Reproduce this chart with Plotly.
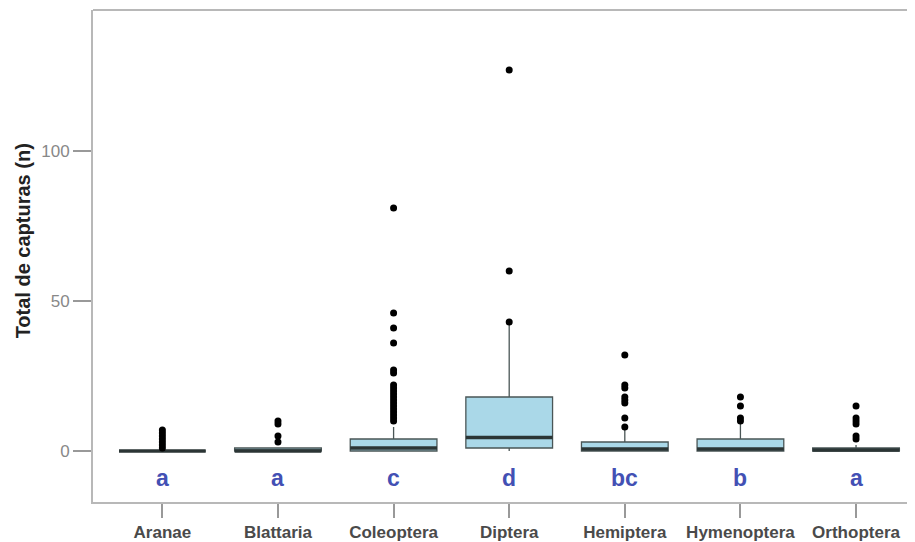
import plotly.graph_objects as go

categories = ["Aranae", "Blattaria", "Coleoptera", "Diptera", "Hemiptera", "Hymenoptera", "Orthoptera"]
q1 = [0, 0, 0, 1, 0, 0, 0]
median = [0, 0, 1, 4.5, 0.7, 0.7, 0.3]
q3 = [0, 1, 4, 18, 3, 4, 1]
lower_whisker = [0, 0, 0, 0, 0, 0, 0]
upper_whisker = [0, 1, 8, 43, 7, 9, 2]
letters = ["a", "a", "c", "d", "bc", "b", "a"]
outliers = {
    "Aranae": [1, 2, 3, 4, 5, 6, 7],
    "Blattaria": [3, 5, 9, 10],
    "Coleoptera": [81, 46, 41, 36, 27, 26, 22, 21, 20, 19, 18, 17, 16, 15, 14, 13, 12, 11, 10],
    "Diptera": [127, 60, 43],
    "Hemiptera": [32, 22, 21, 18, 17, 16, 11, 8],
    "Hymenoptera": [18, 15, 11, 10],
    "Orthoptera": [15, 11, 10, 9, 5, 4],
}
y_ticks = [0, 50, 100]
y_title = "Total de capturas (n)"

xpos = list(range(len(categories)))
BOX_W = 0.75

fig = go.Figure()
fig.add_trace(go.Box(
    x=xpos, q1=q1, median=median, q3=q3,
    lowerfence=lower_whisker, upperfence=upper_whisker,
    width=BOX_W, whiskerwidth=0,
    fillcolor="#aad8e8", line=dict(color="#4a5656", width=1.3),
    boxpoints=False, showlegend=False, hoverinfo="skip",
))

# thick median lines
mx, my = [], []
for i, m in enumerate(median):
    mx += [i - BOX_W / 2, i + BOX_W / 2, None]
    my += [m, m, None]
fig.add_trace(go.Scatter(x=mx, y=my, mode="lines",
                         line=dict(color="#2b3535", width=3.5),
                         showlegend=False, hoverinfo="skip"))

# outliers
ox, oy = [], []
for i, c in enumerate(categories):
    for v in outliers[c]:
        ox.append(i)
        oy.append(v)
fig.add_trace(go.Scatter(x=ox, y=oy, mode="markers",
                         marker=dict(color="black", size=7),
                         showlegend=False, hoverinfo="skip"))

# significance letters
for i, l in enumerate(letters):
    fig.add_annotation(x=i, y=-9, text=f"<b>{l}</b>", showarrow=False,
                       font=dict(family="Arial, Liberation Sans", size=23, color="#4350b4"))

# y-axis title
fig.add_annotation(xref="paper", yref="paper", x=-0.085, y=0.53, text=f"<b>{y_title}</b>",
                   textangle=-90, showarrow=False, xanchor="center", yanchor="middle",
                   font=dict(family="Arial, Liberation Sans", size=20, color="#222"))

fig.add_shape(type="line", xref="paper", yref="paper", x0=0, x1=1, y0=1, y1=1,
              line=dict(color="#b8b8b8", width=2))

fig.update_layout(
    width=907, height=534,
    margin=dict(l=85, r=0, t=2, b=40),
    plot_bgcolor="white", paper_bgcolor="white",
    font=dict(family="Arial, Liberation Sans"),
    xaxis=dict(range=[-0.6, 6.51], tickvals=xpos, ticktext=[f"<b>{c}</b>" for c in categories],
               showline=True, linecolor="#b8b8b8", linewidth=2,
               ticks="outside", ticklen=14, tickcolor="#999", tickwidth=1.5,
               showgrid=False, zeroline=False,
               tickfont=dict(size=17, color="#4a4a4a")),
    yaxis=dict(range=[-17, 147], tickvals=y_ticks,
               showline=True, linecolor="#b8b8b8", linewidth=2,
               ticks="outside", ticklen=18, tickcolor="#999", tickwidth=1.5,
               showgrid=False, zeroline=False,
               tickfont=dict(size=17, color="#888")),
)

fig.write_html("out.html")
